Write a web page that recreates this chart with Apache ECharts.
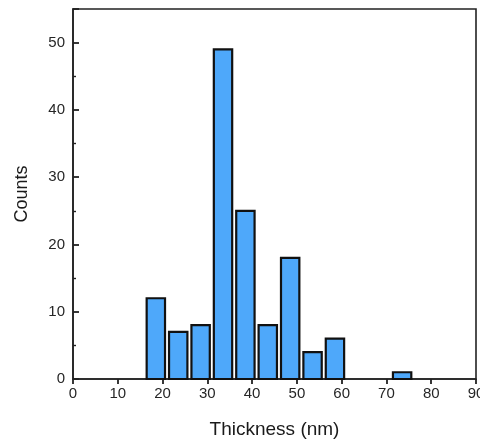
<!DOCTYPE html>
<html>
<head>
<meta charset="utf-8">
<script src="https://cdn.jsdelivr.net/npm/echarts@6/dist/echarts.min.js"></script>
<style>html,body{margin:0;padding:0;background:#fff}#c{width:480px;height:443px}</style>
</head>
<body>
<div id="c"></div>
<script>
const binCenters = [18.5, 23.5, 28.5, 33.5, 38.5, 43.5, 48.5, 53.5, 58.5, 73.5];
const counts = [12, 7, 8, 49, 25, 8, 18, 4, 6, 1];
const barHalfWidth = 2.05;
const xTickLabels = [0, 10, 20, 30, 40, 50, 60, 70, 80, 90];
const yTickLabels = [0, 10, 20, 30, 40, 50];

const chart = echarts.init(document.getElementById('c'), null, {renderer: 'canvas'});
const data = binCenters.map((x, i) => [x, counts[i]]);
const font = 'Liberation Sans, Arial, sans-serif';
chart.setOption({
  animation: false,
  grid: {left: 73, right: 4, top: 9, bottom: 64, containLabel: false, outerBoundsMode: 'none',
    show: true, borderColor: '#222', borderWidth: 1.6, backgroundColor: 'transparent'},
  xAxis: {
    type: 'value', min: 0, max: 90, interval: 10,
    name: 'Thickness (nm)', nameLocation: 'middle', nameGap: 41,
    nameTextStyle: {fontFamily: font, fontSize: 19, color: '#1a1a1a'},
    axisLine: {show: true, lineStyle: {color: '#222', width: 1.6}},
    axisTick: {show: true, inside: false, length: 5, lineStyle: {color: '#222', width: 1.8}},
    axisLabel: {fontFamily: font, fontSize: 15, color: '#262626', margin: 7,
      formatter: v => xTickLabels.includes(v) ? String(v) : ''},
    splitLine: {show: false}
  },
  yAxis: {
    type: 'value', min: 0, max: 55, interval: 10,
    name: 'Counts', nameLocation: 'middle', nameGap: 42,
    nameTextStyle: {fontFamily: font, fontSize: 18, color: '#1a1a1a'},
    axisLine: {show: true, lineStyle: {color: '#222', width: 1.6}},
    axisTick: {show: true, inside: true, length: 6, lineStyle: {color: '#222', width: 1.8}},
    minorTick: {show: true, splitNumber: 2, length: 3, lineStyle: {color: '#222', width: 1.4}},
    axisLabel: {fontFamily: font, fontSize: 15, color: '#262626', margin: 8, showMaxLabel: false,
      formatter: v => yTickLabels.includes(v) ? String(v) : ''},
    splitLine: {show: false}
  },
  series: [{
    type: 'custom',
    data: data,
    renderItem: function (params, api) {
      const x = api.value(0), y = api.value(1);
      const p1 = api.coord([x - barHalfWidth, y]);
      const p2 = api.coord([x + barHalfWidth, 0]);
      return {
        type: 'rect',
        shape: {x: p1[0], y: p1[1], width: p2[0] - p1[0], height: p2[1] - p1[1]},
        style: {fill: '#4ea8fa', stroke: '#111', lineWidth: 2.2}
      };
    }
  }]
});
</script>
</body>
</html>
